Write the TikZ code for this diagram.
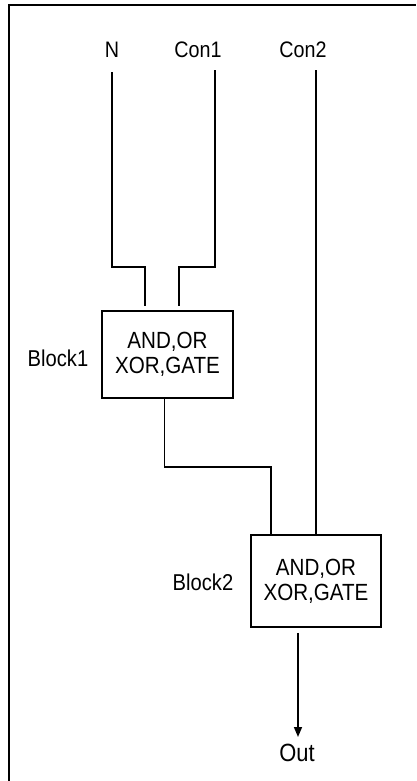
\documentclass[tikz,border=0pt]{standalone}
\usepackage{fontspec}
\setmainfont{Liberation Sans}[FakeStretch=0.88]
\usetikzlibrary{arrows.meta}
\begin{document}
\begin{tikzpicture}[x=1bp,y=-1bp,
  wire/.style={line width=1.5bp},
  gatebox/.style={draw,line width=1.5bp,minimum width=131bp,inner sep=0pt,align=center,font=\fontsize{23.5}{25}\selectfont},
  sig/.style={inner sep=0pt,font=\fontsize{22.5}{25}\selectfont},
  blk/.style={inner sep=0pt,font=\fontsize{23}{25}\selectfont}]
\useasboundingbox (0,0) rectangle (416,781);
\draw[line width=2bp] (9,781) -- (9,5) -- (416,5);
% labels
\node[sig,anchor=base] (N) at (112,58) {N};
\node[sig,anchor=base] (C1) at (198,58) {Con1};
\node[sig,anchor=base] (C2) at (303,58) {Con2};
% blocks
\node[gatebox,minimum height=87bp] (B1) at (167.5,354.5) {AND,OR\\XOR,GATE};
\node[gatebox,minimum height=92bp,minimum width=130bp] (B2) at (316,581) {AND,OR\\XOR,GATE};
\node[blk] (L1) at (58,358) {Block1};
\node[blk] (L2) at (203,582) {Block2};
\node[sig,anchor=base,font=\fontsize{25}{27}\selectfont] (O) at (297,761) {Out};
% wires
\draw[wire,shorten <=14bp,shorten >=4bp] (N.base) -- (N.base |- 0,267) -| ([xshift=-22.5bp]B1.north);
\draw[wire,shorten <=12bp,shorten >=4bp] ([xshift=17bp]C1.base) -- ([xshift=17bp]C1.base |- 0,267) -| ([xshift=11.5bp]B1.north);
\draw[wire,shorten <=12bp] ([xshift=13bp]C2.base) -- ([xshift=13bp]C2.base |- B2.north);
\draw[wire] ([xshift=-3bp]B1.south) -- ([xshift=-3bp]B1.south |- 0,467) -| ([xshift=-45bp]B2.north);
\draw[wire,-{Triangle[length=10bp,width=8bp]},shorten <=5bp] ([xshift=-18bp]B2.south) -- ([xshift=-18bp]B2.south |- 0,737);
\end{tikzpicture}
\end{document}
